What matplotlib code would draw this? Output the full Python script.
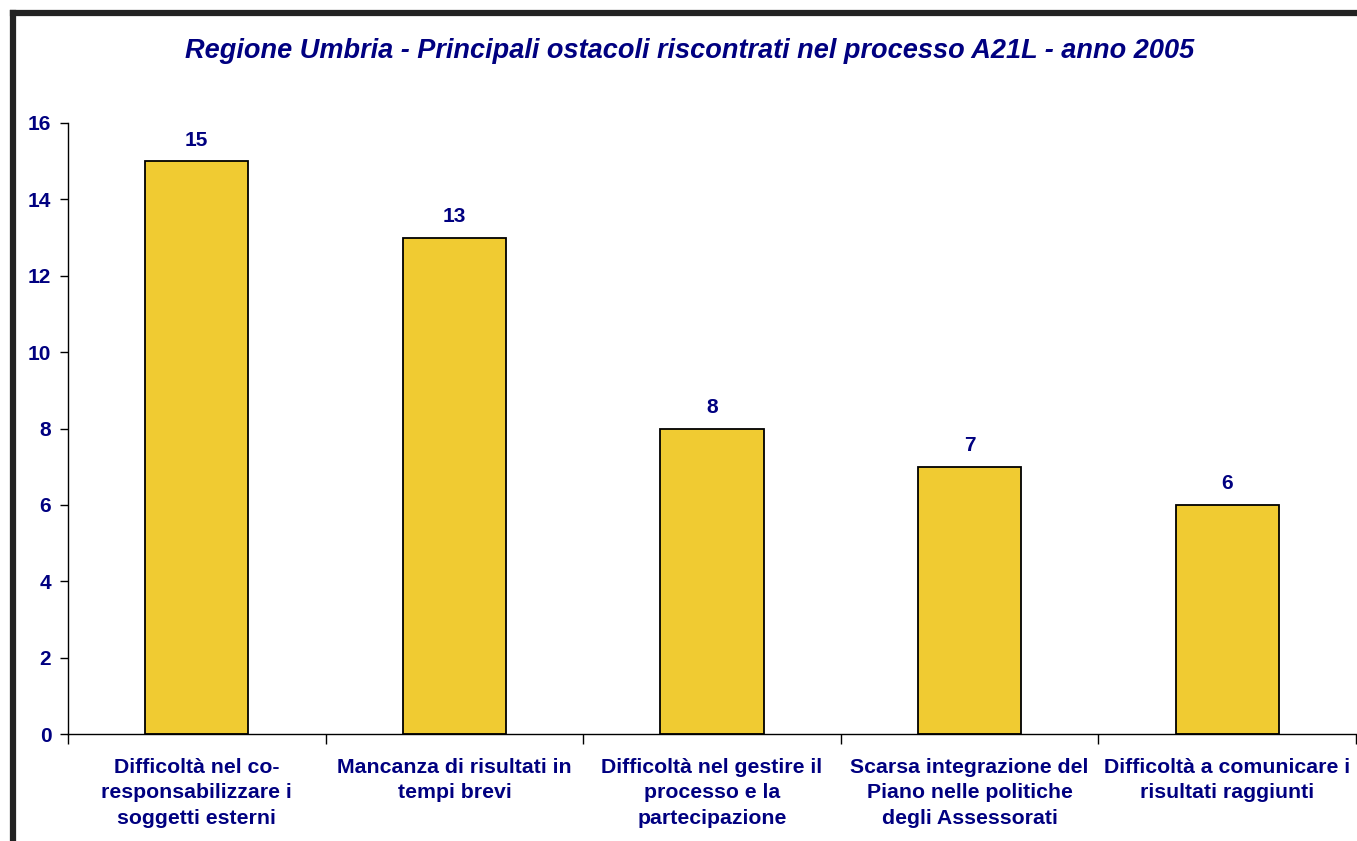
import matplotlib
matplotlib.use("Agg")
from matplotlib import pyplot as plt
from matplotlib.lines import Line2D

categories = ["Difficoltà nel co-\nresponsabilizzare i\nsoggetti esterni",
              "Mancanza di risultati in\ntempi brevi",
              "Difficoltà nel gestire il\nprocesso e la\npartecipazione",
              "Scarsa integrazione del\nPiano nelle politiche\ndegli Assessorati",
              "Difficoltà a comunicare i\nrisultati raggiunti"]
values = [15, 13, 8, 7, 6]
yticks = [0, 2, 4, 6, 8, 10, 12, 14, 16]

navy = "#000080"
plt.rcParams["font.family"] = ["Liberation Sans", "DejaVu Sans"]
plt.rcParams["font.weight"] = "bold"

W, H = 1357, 841
fig = plt.figure(figsize=(W / 100, H / 100), dpi=100)
ax = fig.add_axes([68 / W, 1 - 734 / H, (1356 - 68) / W, (734 - 123) / H])

x = range(len(values))
ax.bar(x, values, width=0.4, color="#F0CB32", edgecolor="black", linewidth=1.3)
for i, v in enumerate(values):
    ax.text(i, v + 0.3, str(v), ha="center", va="bottom", fontsize=15,
            fontweight="bold", color=navy)

ax.set_xlim(-0.5, len(values) - 0.5)
ax.set_ylim(0, 16)
ax.set_yticks(yticks)
ax.set_yticklabels([str(t) for t in yticks], fontsize=15, fontweight="bold", color=navy)
ax.set_xticks([i + 0.5 for i in range(-1, len(values))])
ax.set_xticklabels([])
ax.set_xticks(list(x), minor=True)
ax.set_xticklabels(categories, minor=True, fontsize=15.3, fontweight="bold",
                   color=navy, linespacing=1.45)
ax.tick_params(axis="x", which="minor", length=0, pad=17)
ax.tick_params(axis="x", which="major", length=7, width=1, direction="out")
ax.tick_params(axis="y", length=6, width=1, direction="out", pad=6)
for s in ["top", "right"]:
    ax.spines[s].set_visible(False)
ax.spines["left"].set_linewidth(1)
ax.spines["bottom"].set_linewidth(1)

fig.text(690 / W, 1 - 51 / H, "Regione Umbria - Principali ostacoli riscontrati nel processo A21L - anno 2005",
         ha="center", va="center", fontsize=19.5, fontweight="bold", style="italic", color=navy)

# outer frame (top and left edges visible)
fig.add_artist(Line2D([13 / W, 1], [1 - 13 / H, 1 - 13 / H], color="#222222", linewidth=4.5,
                      transform=fig.transFigure))
fig.add_artist(Line2D([13 / W, 13 / W], [0, 1 - 13 / H], color="#222222", linewidth=4.5,
                      transform=fig.transFigure))

fig.savefig("out.png", dpi=100)
